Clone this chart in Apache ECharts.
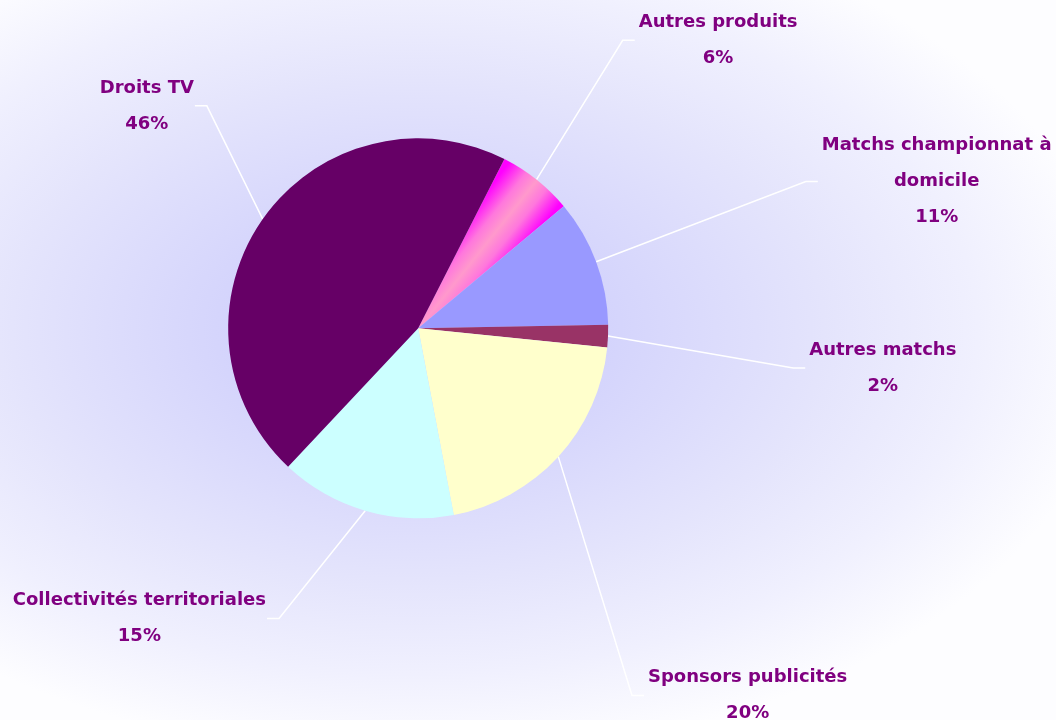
<!DOCTYPE html>
<html>
<head>
<meta charset="utf-8">
<script src="https://cdn.jsdelivr.net/npm/echarts@6/dist/echarts.min.js"></script>
<style>
  html, body { margin: 0; padding: 0; }
  #chart {
    width: 1056px; height: 720px;
    background: radial-gradient(ellipse 700px 430px at 418px 330px,
      #ccccff 0%, #d4d4fc 27%, #e4e4fc 58%, #f0f0fe 80%, #fdfdff 100%);
  }
</style>
</head>
<body>
<div id="chart"></div>
<script>
// Répartition des recettes (clockwise from the top slice)
var categories = ['Autres produits', 'Matchs championnat à\ndomicile', 'Autres matchs',
  'Sponsors publicités', 'Collectivités territoriales', 'Droits TV'];
var shares = [6.4, 10.8, 1.9, 20.4, 15.0, 45.5];

var sliceColors = [
  { type: 'linear', x: 0.33, y: 0.34, x2: 0.68, y2: 0.58,
    colorStops: [{ offset: 0, color: '#ff00ff' }, { offset: 0.3, color: '#ff77dd' },
      { offset: 0.5, color: '#ff99cc' }, { offset: 0.7, color: '#ff77dd' }, { offset: 1, color: '#ff00ff' }] },
  '#9999ff', '#993366', '#ffffcc', '#ccffff', '#660066'
];
// where each label block sits, as fractions of the chart width / height
var labelSpots = [[0.680, 0.056], [0.887, 0.252], [0.836, 0.511], [0.708, 0.966], [0.132, 0.859], [0.139, 0.147]];

var CENTER = ['39.6%', '45.6%'];
var RADIUS = 190;
var START = 63;

var chart = echarts.init(document.getElementById('chart'), null, { renderer: 'canvas' });

function midPoint(i) {
  var total = shares.reduce(function (a, b) { return a + b; }, 0);
  var before = 0;
  for (var k = 0; k < i; k++) before += shares[k];
  var ang = (START - (before + shares[i] / 2) / total * 360) * Math.PI / 180;
  var cx = parseFloat(CENTER[0]) / 100 * chart.getWidth();
  var cy = parseFloat(CENTER[1]) / 100 * chart.getHeight();
  return [cx + RADIUS * Math.cos(ang), cy - RADIUS * Math.sin(ang)];
}

chart.setOption({
  backgroundColor: 'transparent',
  animation: false,
  series: [{
    type: 'pie',
    center: CENTER,
    radius: RADIUS,
    startAngle: START,
    clockwise: true,
    avoidLabelOverlap: false,
    percentPrecision: 0,
    data: categories.map(function (c, i) {
      return { name: c, value: shares[i], itemStyle: { color: sliceColors[i] } };
    }),
    itemStyle: { borderWidth: 0 },
    label: {
      formatter: '{b}\n{d}%',
      color: '#800080',
      fontFamily: '"Comic Sans MS", "DejaVu Sans", sans-serif',
      fontWeight: 'bold',
      fontSize: 18,
      lineHeight: 36
    },
    labelLine: { show: true, smooth: false, lineStyle: { color: '#ffffff', width: 1.5 } },
    labelLayout: function (p) {
      var w = chart.getWidth(), h = chart.getHeight();
      var spot = labelSpots[p.dataIndex];
      var x = spot[0] * w, y = spot[1] * h;
      var r = p.labelRect;
      var start = midPoint(p.dataIndex);
      var onLeft = x < start[0];
      var endX = onLeft ? x + r.width / 2 + 1 : x - r.width / 2 - 4;
      var endY = y;
      var bendX = onLeft ? endX + 12 : endX - 12;
      return {
        x: x, y: y, align: 'center', verticalAlign: 'middle',
        labelLinePoints: [start, [bendX, endY], [endX, endY]]
      };
    }
  }]
});
</script>
</body>
</html>
